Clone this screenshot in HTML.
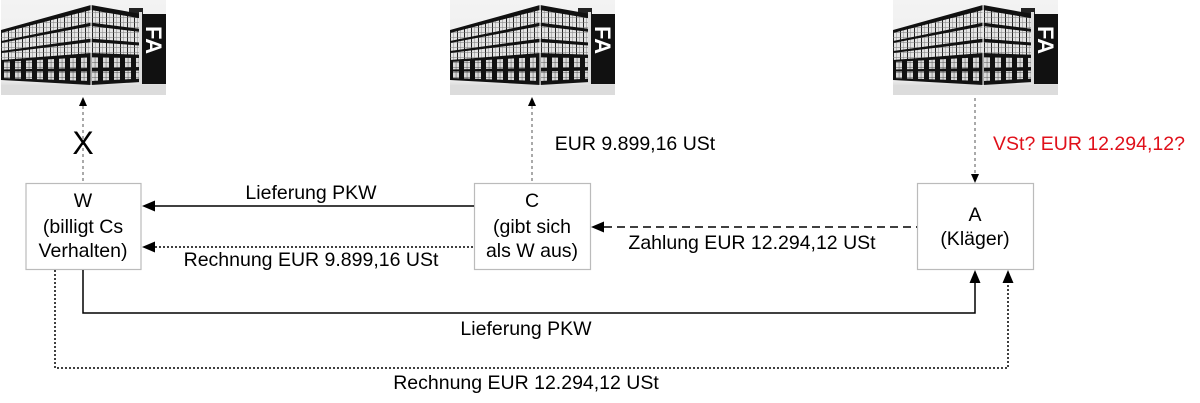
<!DOCTYPE html>
<html><head><meta charset="utf-8"><style>
html,body{margin:0;padding:0;background:#fff;}
body{width:1200px;height:403px;position:relative;overflow:hidden;font-family:"Liberation Sans",Arial,sans-serif;}
</style></head><body>
<svg width="1200" height="403" viewBox="0 0 1200 403" xmlns="http://www.w3.org/2000/svg" style="position:absolute;left:0;top:0">
<defs>
<pattern id="win" width="7" height="5" patternUnits="userSpaceOnUse">
<rect width="7" height="5" fill="#e4e4e4"/><rect width="1" height="5" fill="#222"/><rect y="2.4" width="7" height="0.5" fill="#777"/><rect x="3.5" width="0.5" height="5" fill="#888"/>
</pattern>
<pattern id="win2" width="11" height="5" patternUnits="userSpaceOnUse">
<rect width="11" height="5" fill="#111"/><rect x="3" width="6" height="5" fill="#dadada"/><rect x="5.8" width="0.5" height="5" fill="#555"/><rect x="3" y="2.4" width="6" height="0.5" fill="#555"/>
</pattern>
<linearGradient id="bg" x1="0" y1="0" x2="0" y2="1">
<stop offset="0" stop-color="#f3f3f3"/><stop offset="0.85" stop-color="#ececec"/><stop offset="0.92" stop-color="#d6d6d6"/><stop offset="1" stop-color="#ebebeb"/>
</linearGradient>
<g id="bld">
<rect x="0" y="0" width="165" height="95" fill="url(#bg)"/>
<rect x="128" y="8" width="14" height="6" fill="#222"/>
<polygon points="0,30 90,5 90,85 0,80" fill="#111"/>
<polygon points="90,5 140,14 140,82 90,85" fill="#111"/>
<polygon points="0,33 90,10 90,22.6 0,41" fill="url(#win)"/>
<polygon points="0,43 90,26 90,38.6 0,51" fill="url(#win)"/>
<polygon points="0,53 90,42 90,53 0,60" fill="url(#win)"/>
<polygon points="0,62 90,57 90,68 0,69.5" fill="url(#win2)"/>
<polygon points="0,71.5 90,71.5 90,81 0,78" fill="url(#win2)"/>
<polygon points="90,10 140,18.5 140,29 90,22.6" fill="url(#win)"/>
<polygon points="90,26 140,32 140,42.6 90,38.6" fill="url(#win)"/>
<polygon points="90,42 140,45.6 140,54.8 90,53" fill="url(#win)"/>
<polygon points="90,57 140,58 140,67 90,68" fill="url(#win2)"/>
<polygon points="90,71.5 140,70.5 140,78.6 90,81" fill="url(#win2)"/>
<rect x="89.5" y="5" width="1.2" height="82" fill="#eee"/>
<rect x="138" y="12" width="3" height="72" fill="#ddd"/>
<rect x="141" y="14" width="24" height="70" fill="#111"/>
<text x="0" y="0" transform="translate(145,26) rotate(90)" font-family="Liberation Sans, Arial, sans-serif" font-weight="bold" font-size="22" fill="#fff">FA</text>
<rect x="0" y="86" width="165" height="9" fill="#dcdcdc"/>
</g>
</defs>

<use href="#bld" x="1" y="0"/>
<use href="#bld" x="450" y="0"/>
<use href="#bld" x="893" y="0"/>

<g fill="none" stroke="#555" stroke-width="1" stroke-dasharray="3,3">
<line x1="83" y1="106" x2="83" y2="183"/>
<line x1="532" y1="106" x2="532" y2="183"/>
<line x1="975" y1="98" x2="975" y2="175"/>
</g>
<polygon points="83,97 79,106 87,106" fill="#000"/>
<polygon points="532,97 528,106 536,106" fill="#000"/>
<polygon points="975,183 971,174 979,174" fill="#000"/>

<g fill="#fff" stroke="#bbb" stroke-width="1.2">
<rect x="26" y="183.5" width="115" height="86"/>
<rect x="474.5" y="183.5" width="116" height="86"/>
<rect x="917.5" y="183.5" width="116" height="86"/>
</g>

<line x1="155" y1="206" x2="474" y2="206" stroke="#000" stroke-width="1.5"/>
<polygon points="142,206 155,200.5 155,211.5" fill="#000"/>
<line x1="155" y1="247" x2="474" y2="247" stroke="#000" stroke-width="1.5" stroke-dasharray="2,2"/>
<polygon points="142,247 155,241.5 155,252.5" fill="#000"/>
<line x1="604" y1="227" x2="917" y2="227" stroke="#000" stroke-width="1.5" stroke-dasharray="8,5"/>
<polygon points="591,227 604,221.5 604,232.5" fill="#000"/>

<polyline points="83,270 83,313 975,313 975,283" fill="none" stroke="#000" stroke-width="1.5"/>
<polygon points="975,270 969.5,283 980.5,283" fill="#000"/>
<polyline points="55,270 55,368 1008,368 1008,283" fill="none" stroke="#000" stroke-width="1.5" stroke-dasharray="2,2"/>
<polygon points="1008,270 1002.5,283 1013.5,283" fill="#000"/>

<g font-family="Liberation Sans, Arial, sans-serif" font-size="19.5" fill="#000" text-anchor="middle">
<text x="83" y="207">W</text>
<text x="83" y="233">(billigt Cs</text>
<text x="83" y="257">Verhalten)</text>
<text x="532" y="207">C</text>
<text x="532" y="233">(gibt sich</text>
<text x="532" y="257">als W aus)</text>
<text x="975" y="221">A</text>
<text x="975" y="245">(Kläger)</text>
<text x="311" y="199">Lieferung PKW</text>
<text x="311" y="266">Rechnung EUR 9.899,16 USt</text>
<text x="752" y="249">Zahlung EUR 12.294,12 USt</text>
<text x="526" y="335">Lieferung PKW</text>
<text x="526" y="389">Rechnung EUR 12.294,12 USt</text>
<text x="635" y="150">EUR 9.899,16 USt</text>
<text x="1089" y="150" fill="#e0101a">VSt? EUR 12.294,12?</text>
<text x="83" y="154" font-size="32">X</text>
</g>
</svg>
</body></html>
